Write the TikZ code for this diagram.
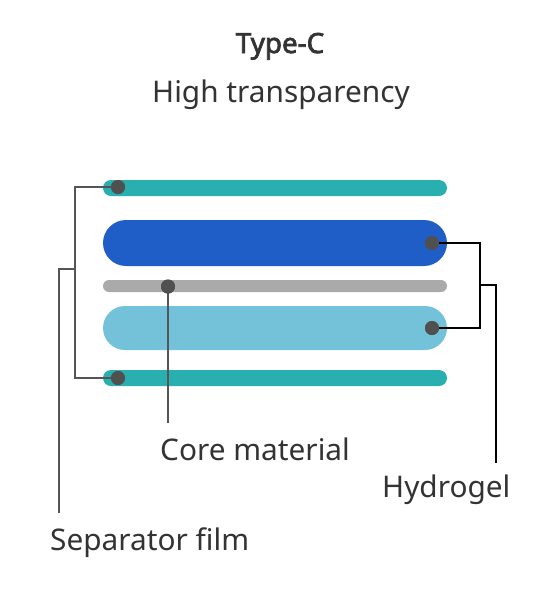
\documentclass[tikz,border=0pt]{standalone}
\usepackage{fontspec}
\setmainfont{Noto Sans}
\newfontfamily\titlefont{Noto Sans}[FakeBold=2.6]
\definecolor{teal1}{HTML}{2AAFB1}
\definecolor{blue1}{HTML}{1F5EC6}
\definecolor{gray1}{HTML}{AAAAAA}
\definecolor{lblue}{HTML}{74C2DA}
\definecolor{dotc}{HTML}{505050}
\definecolor{sepc}{HTML}{555555}
\definecolor{txt}{HTML}{333333}
\begin{document}
\begin{tikzpicture}[x=1pt,y=-1pt,
  bar/.style={rectangle,inner sep=0pt,minimum width=344pt,draw=none},
  dotm/.style={circle,fill=dotc,inner sep=0pt,minimum size=14pt},
  seplink/.style={draw=sepc,line width=2.8pt},
  hydlink/.style={draw=black,line width=2.8pt},
  lbl/.style={text=txt,inner sep=0pt,font=\fontsize{29.8}{34}\selectfont},
  ttl/.style={text=txt,inner sep=0pt,font=\titlefont\fontsize{27.8}{32}\selectfont}]
\useasboundingbox (0,0) rectangle (558,590);
\fill[white] (0,0) rectangle (558,590);
% bars
\node[bar,fill=teal1,minimum height=16pt,rounded corners=8pt] (topf) at (275,188) {};
\node[bar,fill=blue1,minimum height=46pt,rounded corners=23pt] (hyd1) at (275,243) {};
\node[bar,fill=gray1,minimum height=12pt,rounded corners=6pt] (core) at (275,286) {};
\node[bar,fill=lblue,minimum height=44pt,rounded corners=22pt] (hyd2) at (275,328) {};
\node[bar,fill=teal1,minimum height=16pt,rounded corners=8pt] (botf) at (275,378) {};
% connector points
\coordinate (s1) at (75,187);
\coordinate (s2) at (75,378);
\coordinate (sb) at (75,269);
\coordinate (sc) at (59,269);
\coordinate (se) at (59,513);
\coordinate (ce) at (168,423);
\coordinate (h1) at (480,243);
\coordinate (h2) at (480,328);
\coordinate (hb) at (480,285);
\coordinate (hc) at (496,285);
\coordinate (he) at (496,463);
% dots
\node[dotm] (d1) at (118,187) {};
\node[dotm] (d2) at (118,378) {};
\node[dotm] (d3) at (168,286.5) {};
\node[dotm] (d4) at (432,243) {};
\node[dotm] (d5) at (432,328) {};
% connectors
\draw[seplink] (d1.center) -- (s1) -- (s2) -- (d2.center);
\draw[seplink] (sb) -- (sc) -- (se);
\draw[seplink] (d3.center) -- (ce);
\draw[hydlink] (d4.center) -- (h1) -- (h2) -- (d5.center);
\draw[hydlink] (hb) -- (hc) -- (he);
% redraw dots on top
\node[dotm] at (d1) {};
\node[dotm] at (d2) {};
\node[dotm] at (d3) {};
\node[dotm] at (d4) {};
\node[dotm] at (d5) {};
% texts
\node[ttl,anchor=base] (title) at (280,53) {Type-C};
\node[lbl,anchor=base] (sub) at (281,102) {High transparency};
\node[lbl,anchor=base west] (lcore) at (160,460) {Core material};
\node[lbl,anchor=base west] (lhyd) at (382,497) {Hydrogel};
\node[lbl,anchor=base west] (lsep) at (50,550) {Separator film};
\end{tikzpicture}
\end{document}
